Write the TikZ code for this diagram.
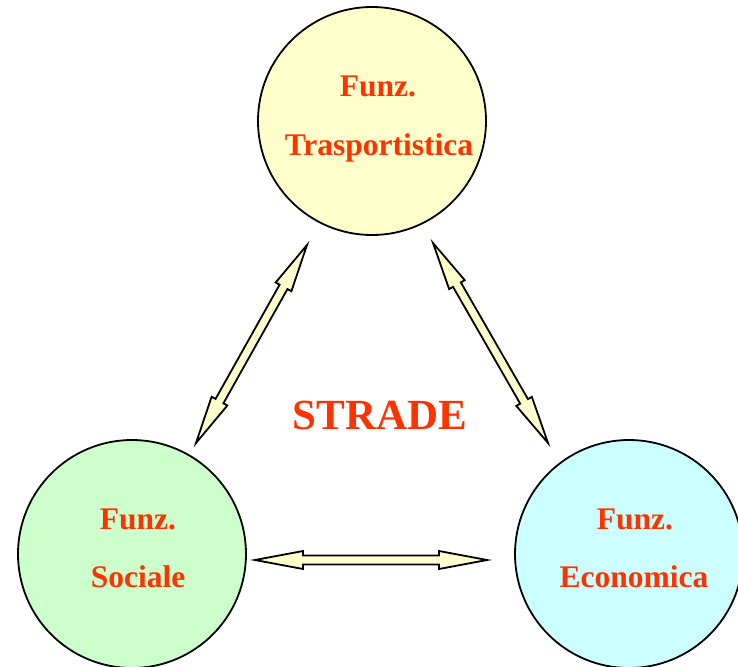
\documentclass[tikz,border=0pt]{standalone}
\usepackage{fontspec}
\setmainfont{Liberation Serif}
\usetikzlibrary{calc}
\definecolor{stradared}{RGB}{255,51,0}
\definecolor{traspyellow}{RGB}{255,255,204}
\definecolor{socgreen}{RGB}{204,255,204}
\definecolor{ecocyan}{RGB}{204,255,255}

% double block arrow between two named tips
\newcommand{\dblarrow}[2]{%
  \draw[link] (#1)
    -- ($(#1)!48pt!(#2)!9pt!90:(#2)$)
    -- ($(#1)!48pt!(#2)!4.5pt!90:(#2)$)
    -- ($(#2)!48pt!(#1)!4.5pt!-90:(#1)$)
    -- ($(#2)!48pt!(#1)!9pt!-90:(#1)$)
    -- (#2)
    -- ($(#2)!48pt!(#1)!9pt!90:(#1)$)
    -- ($(#2)!48pt!(#1)!4.5pt!90:(#1)$)
    -- ($(#1)!48pt!(#2)!4.5pt!-90:(#2)$)
    -- ($(#1)!48pt!(#2)!9pt!-90:(#2)$)
    -- cycle;}

\begin{document}
\begin{tikzpicture}[
        x=1pt, y=-1pt,
        circ/.style={circle, draw, line width=1.8pt, minimum size=228pt, inner sep=0pt},
        lbl/.style={anchor=base, inner sep=0pt, text=stradared, font=\fontsize{31.5}{36}\selectfont\bfseries},
        link/.style={draw, line width=1.8pt, fill=traspyellow, line join=miter}
    ]
        \clip (0,0) rectangle (738,666);

        \node[circ, fill=traspyellow] (trasp) at (372,121) {};
        \node[circ, fill=socgreen] (soc) at (132,554) {};
        \node[circ, fill=ecocyan] (eco) at (629,554) {};

        \node[lbl] (traspA) at (378,97) {Funz.};
        \node[lbl] (traspB) at (379,155) {Trasportistica};
        \node[lbl] (socA) at (138,529) {Funz.};
        \node[lbl] (socB) at (138,587) {Sociale};
        \node[lbl] (ecoA) at (635,529) {Funz.};
        \node[lbl] (ecoB) at (634,587) {Economica};

        \node[lbl, font=\fontsize{43}{50}\selectfont\bfseries] (strade) at (380,429) {STRADE};

        % arrow tips
        \coordinate (ts1) at (307,245);
        \coordinate (ts2) at (196,443);
        \coordinate (te1) at (433,243);
        \coordinate (te2) at (548,443);
        \coordinate (se1) at (255,560);
        \coordinate (se2) at (487,560);

        \dblarrow{ts1}{ts2}
        \dblarrow{te1}{te2}
        \dblarrow{se1}{se2}
    \end{tikzpicture}
\end{document}
